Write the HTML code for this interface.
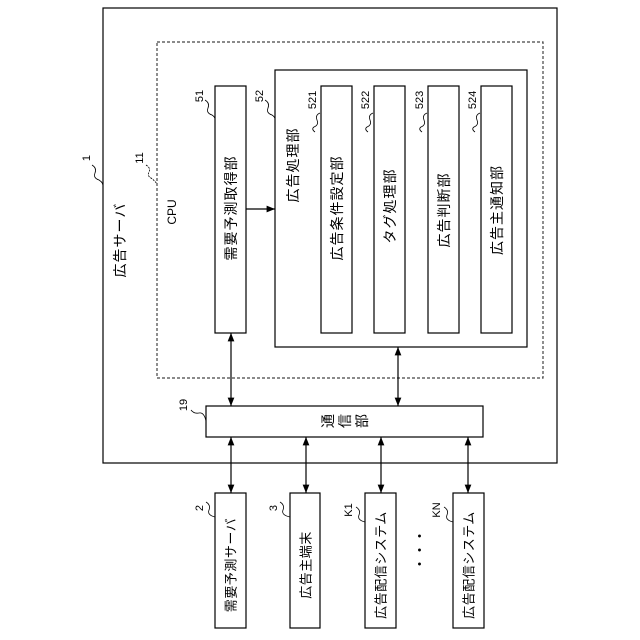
<!DOCTYPE html>
<html><head><meta charset="utf-8"><style>body{margin:0;background:#fff}svg{display:block}text{font-family:"Liberation Sans","Noto Sans CJK JP",sans-serif;fill:#000}</style></head><body>
<svg width="640" height="640" viewBox="0 0 640 640">
<defs><marker id="a" viewBox="0 0 10 10" refX="10" refY="5" markerWidth="7" markerHeight="7" orient="auto-start-reverse"><path d="M0,1 L10,5 L0,9 z" fill="#000"/></marker></defs>
<g fill="none" stroke="#000" stroke-width="1.2">
<rect x="103" y="8" width="454" height="455"/>
<rect x="157" y="42" width="386" height="336" stroke-dasharray="3,2" stroke="#444"/>
<rect x="215" y="86" width="31" height="247"/>
<rect x="275" y="70" width="252" height="277"/>
<rect x="321" y="86" width="31" height="247"/>
<rect x="374" y="86" width="31" height="247"/>
<rect x="428" y="86" width="31" height="247"/>
<rect x="481" y="86" width="31" height="247"/>
<rect x="206" y="406" width="277" height="31"/>
<rect x="215" y="493" width="31" height="135"/>
<rect x="290" y="493" width="30" height="135"/>
<rect x="365" y="493" width="31" height="135"/>
<rect x="453" y="493" width="31" height="135"/>
<line x1="246" y1="209" x2="275" y2="209" marker-end="url(#a)"/>
<line x1="231" y1="333" x2="231" y2="406" marker-start="url(#a)" marker-end="url(#a)"/>
<line x1="398" y1="347" x2="398" y2="406" marker-start="url(#a)" marker-end="url(#a)"/>
<line x1="231" y1="437" x2="231" y2="493" marker-start="url(#a)" marker-end="url(#a)"/>
<line x1="306" y1="437" x2="306" y2="493" marker-start="url(#a)" marker-end="url(#a)"/>
<line x1="381" y1="437" x2="381" y2="493" marker-start="url(#a)" marker-end="url(#a)"/>
<line x1="468" y1="437" x2="468" y2="493" marker-start="url(#a)" marker-end="url(#a)"/>
<g stroke-width="0.8">
<path d="M92,165 q5,3 3,8 q-2,5 4,7 q5,3 4,8"/>
<path d="M146,165 q5,3 3,7 q-2,4 2,6 q4,3 6,6" stroke-dasharray="2,1"/>
<path d="M205,100 q5,3 3,8 q-2,5 4,7 q3,2 3,4"/>
<path d="M265,100 q5,3 3,8 q-2,5 4,7 q3,2 3,4"/>
<path d="M320,113 q-5,2 -3,7 q2,5 -3,7 q-3,2 1,5"/>
<path d="M373,113 q-5,2 -3,7 q2,5 -3,7 q-3,2 1,5"/>
<path d="M427,113 q-5,2 -3,7 q2,5 -3,7 q-3,2 1,5"/>
<path d="M480,113 q-5,2 -3,7 q2,5 -3,7 q-3,2 1,5"/>
<path d="M191,410 q3,4 8,3 q5,-1 7,8"/>
<path d="M206,502 q5,3 3,8 q-2,5 6,7"/>
<path d="M280,502 q5,3 3,8 q-2,5 7,7"/>
<path d="M356,507 q5,3 3,8 q-2,5 6,7"/>
<path d="M444,507 q5,3 3,8 q-2,5 6,7"/>
</g>
</g>
<g font-size="14" letter-spacing="1" text-anchor="middle" dominant-baseline="central">
<text transform="translate(120,240) rotate(-90)">広告サーバ</text>
<text transform="translate(172,212) rotate(-90)" font-size="12" letter-spacing="0">CPU</text>
<text transform="translate(231,208) rotate(-90)">需要予測取得部</text>
<text transform="translate(293,165) rotate(-90)">広告処理部</text>
<text transform="translate(337,208) rotate(-90)">広告条件設定部</text>
<text transform="translate(390,206) rotate(-90)">タグ処理部</text>
<text transform="translate(444,210) rotate(-90)">広告判断部</text>
<text transform="translate(497,210) rotate(-90)">広告主通知部</text>
<text transform="translate(328,421) rotate(-90)" letter-spacing="0">通</text>
<text transform="translate(345,421) rotate(-90)" letter-spacing="0">信</text>
<text transform="translate(362,421) rotate(-90)" letter-spacing="0">部</text>
<text transform="translate(420,550) rotate(-90)" font-size="14" letter-spacing="0">・・・</text>
</g>
<g font-size="13" letter-spacing="0.5" text-anchor="middle" dominant-baseline="central">
<text transform="translate(231,565) rotate(-90)">需要予測サーバ</text>
<text transform="translate(306,565) rotate(-90)">広告主端末</text>
<text transform="translate(381,565) rotate(-90)">広告配信システム</text>
<text transform="translate(469,565) rotate(-90)">広告配信システム</text>
</g>
<g font-size="11" text-anchor="middle" dominant-baseline="central">
<text transform="translate(87,158) rotate(-90)">1</text>
<text transform="translate(140,158) rotate(-90)">11</text>
<text transform="translate(200,96) rotate(-90)">51</text>
<text transform="translate(260,96) rotate(-90)">52</text>
<text transform="translate(313,100) rotate(-90)">521</text>
<text transform="translate(366,100) rotate(-90)">522</text>
<text transform="translate(420,100) rotate(-90)">523</text>
<text transform="translate(473,100) rotate(-90)">524</text>
<text transform="translate(184,405) rotate(-90)">19</text>
<text transform="translate(200,508) rotate(-90)">2</text>
<text transform="translate(274,508) rotate(-90)">3</text>
<text transform="translate(349,510) rotate(-90)">K1</text>
<text transform="translate(437,510) rotate(-90)">KN</text>
</g>
</svg>
</body></html>
